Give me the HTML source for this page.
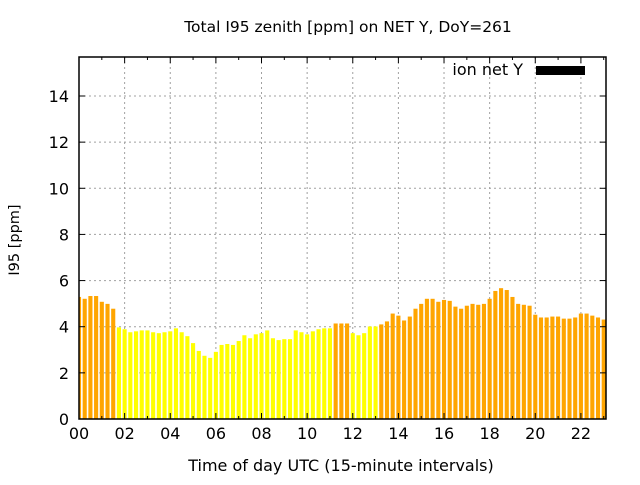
<!DOCTYPE html>
<html><head><meta charset="utf-8"><style>
body{margin:0;background:#fff;width:640px;height:480px;overflow:hidden}
svg{font-family:"DejaVu Sans","Liberation Sans",sans-serif}
</style></head><body>
<svg id="chart" width="640" height="480" xmlns="http://www.w3.org/2000/svg">
<rect width="640" height="480" fill="#fff"/>
<text x="348" y="32" font-size="15.5" text-anchor="middle">Total I95 zenith [ppm] on NET Y, DoY=261</text>
<text transform="translate(19,240) rotate(-90)" font-size="14.5" text-anchor="middle">I95 [ppm]</text>
<text x="341" y="471" font-size="16" text-anchor="middle">Time of day UTC (15-minute intervals)</text>
<g id="grid"></g><g id="bars"></g><g id="axes"></g>
<g>
<text x="523" y="75" font-size="16" text-anchor="end">ion net Y</text>
<rect x="536" y="66" width="49" height="9" fill="#000"/>
</g>
</svg>
<script>
const values=[5.29,5.21,5.33,5.33,5.08,4.99,4.78,3.97,3.89,3.76,3.80,3.84,3.84,3.76,3.72,3.76,3.80,3.93,3.76,3.59,3.29,2.95,2.74,2.65,2.91,3.21,3.25,3.21,3.38,3.63,3.50,3.67,3.72,3.84,3.50,3.42,3.46,3.46,3.84,3.76,3.67,3.80,3.89,3.93,3.93,4.14,4.14,4.14,3.72,3.63,3.72,4.01,4.01,4.10,4.23,4.57,4.48,4.27,4.44,4.78,4.99,5.21,5.21,5.08,5.16,5.12,4.87,4.78,4.91,4.99,4.95,4.99,5.21,5.55,5.67,5.59,5.29,4.99,4.95,4.91,4.52,4.40,4.40,4.44,4.44,4.35,4.35,4.40,4.57,4.57,4.48,4.40,4.31];
const levels=[2,2,2,2,2,2,2,1,1,1,1,1,1,1,1,1,1,1,1,1,1,1,1,1,1,1,1,1,1,1,1,1,1,1,1,1,1,1,1,1,1,1,1,1,1,2,2,2,1,1,1,1,1,2,2,2,2,2,2,2,2,2,2,2,2,2,2,2,2,2,2,2,2,2,2,2,2,2,2,2,2,2,2,2,2,2,2,2,2,2,2,2,2];
const yTicks=[0,2,4,6,8,10,12,14];
const xTicks=[0,2,4,6,8,10,12,14,16,18,20,22];
const xTickLabels=["00","02","04","06","08","10","12","14","16","18","20","22"];
const NS="http://www.w3.org/2000/svg";
const L=79,R=606,T=57,B=419,xMax=23.1,yMax=15.69;
const xs=h=>L+h/xMax*(R-L);
const ys=v=>B-v/yMax*(B-T);
function mk(tag,attrs,parent){const e=document.createElementNS(NS,tag);for(const k in attrs)e.setAttribute(k,attrs[k]);parent.appendChild(e);return e;}
const grid=document.getElementById('grid'),bars=document.getElementById('bars'),axes=document.getElementById('axes');
yTicks.forEach(v=>{
 if(v>0){const g=mk('line',{x1:L,x2:R,y1:ys(v),y2:ys(v),stroke:'#a0a0a0','stroke-dasharray':'2,3'},grid);
 
 }
 const t=mk('text',{x:L-10,y:ys(v)+6,'font-size':16,'text-anchor':'end'},axes);t.textContent=v;
 
 
 mk('line',{x1:L,x2:L+6,y1:ys(v),y2:ys(v),stroke:'#000'},axes);
 mk('line',{x1:R,x2:R-6,y1:ys(v),y2:ys(v),stroke:'#000'},axes);
});
xTicks.forEach((h,i)=>{
 if(h>0){const g=mk('line',{x1:xs(h),x2:xs(h),y1:T,y2:B,stroke:'#a0a0a0','stroke-dasharray':'2,3'},grid);
 
 }
 const t=mk('text',{x:xs(h),y:B+20,'font-size':16,'text-anchor':'middle'},axes);t.textContent=xTickLabels[i];
 
 
 mk('line',{x1:xs(h),x2:xs(h),y1:B,y2:B-6,stroke:'#000'},axes);
 mk('line',{x1:xs(h),x2:xs(h),y1:T,y2:T+6,stroke:'#000'},axes);
 if(h+1<xMax){mk('line',{x1:xs(h+1),x2:xs(h+1),y1:B,y2:B-3,stroke:'#000'},axes);mk('line',{x1:xs(h+1),x2:xs(h+1),y1:T,y2:T+3,stroke:'#000'},axes);}
});
const bw=(xs(0.25)-xs(0))*0.72;
values.forEach((v,i)=>{
 const c=xs(i*0.25);let x0=Math.max(L,c-bw/2),x1=Math.min(R,c+bw/2);
 const r=mk('rect',{x:x0,y:ys(v),width:x1-x0,height:B-ys(v),fill:levels[i]===2?'#ffa500':'#ffff00'},bars);
 
 
});
const f=mk('rect',{x:L,y:T,width:R-L,height:B-T,fill:'none',stroke:'#000','stroke-width':1.5},axes);


</script>
</body></html>
